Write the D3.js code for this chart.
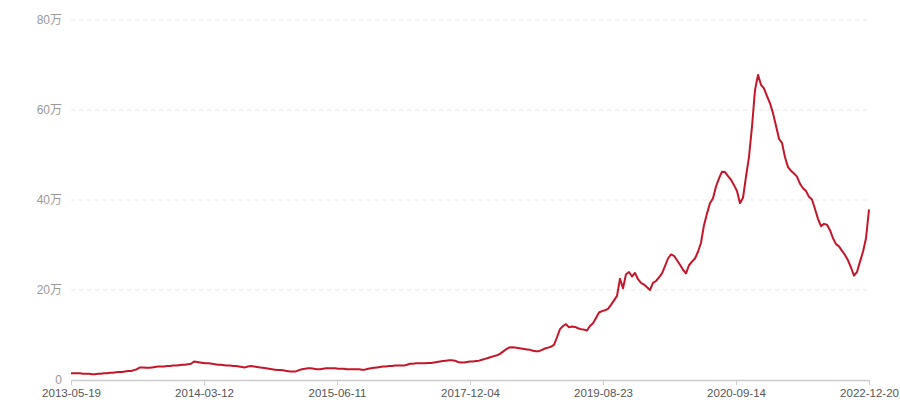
<!DOCTYPE html>
<html><head><meta charset="utf-8">
<script src="https://cdn.jsdelivr.net/npm/d3@7"></script>
<style>body{margin:0;background:#fff}svg{display:block}</style>
</head><body><div id="chart"></div>
<script>
const tickLabels = ["2013-05-19","2014-03-12","2015-06-11","2017-12-04","2019-08-23","2020-09-14","2022-12-20"];
const yTicks = [0,20,40,60,80];
const values = [
1.5,1.5,1.5,1.5,1.4,1.4,1.4,1.3,1.3,1.4,
1.4,1.5,1.5,1.6,1.6,1.7,1.8,1.8,1.9,2.0,
2.0,2.2,2.4,2.8,2.8,2.7,2.7,2.8,2.9,3.0,
3.0,3.0,3.1,3.1,3.2,3.2,3.3,3.4,3.4,3.5,
3.6,4.1,4.0,3.9,3.8,3.7,3.7,3.6,3.5,3.4,
3.4,3.3,3.2,3.2,3.1,3.1,3.0,2.9,2.8,3.0,
3.1,3.0,2.9,2.8,2.7,2.6,2.5,2.4,2.3,2.2,
2.2,2.1,2.0,1.9,1.9,1.9,2.2,2.4,2.5,2.6,
2.6,2.5,2.4,2.4,2.5,2.6,2.6,2.6,2.6,2.5,
2.5,2.5,2.4,2.4,2.4,2.4,2.4,2.3,2.3,2.5,
2.6,2.7,2.8,2.9,3.0,3.0,3.1,3.1,3.2,3.2,
3.2,3.2,3.4,3.6,3.6,3.7,3.7,3.7,3.7,3.8,
3.8,3.9,4.0,4.1,4.2,4.3,4.4,4.4,4.3,4.0,
3.9,3.9,4.0,4.1,4.1,4.2,4.3,4.5,4.7,4.9,
5.1,5.3,5.5,5.8,6.3,6.8,7.2,7.3,7.2,7.1,
7.0,6.9,6.8,6.7,6.5,6.4,6.4,6.7,7.0,7.2,
7.4,7.8,9.5,11.3,12.0,12.4,11.7,11.9,11.8,11.5,
11.3,11.2,11.0,12.0,12.6,13.8,15.0,15.3,15.5,15.8,
16.7,17.7,18.7,22.5,20.4,23.5,24.0,23.0,23.8,22.4,
21.6,21.2,20.6,20.0,21.6,22.0,22.8,23.7,25.3,27.0,
27.9,27.6,26.6,25.6,24.5,23.7,25.5,26.3,27.0,28.5,
30.5,34.4,37.0,39.3,40.4,43.0,44.8,46.3,46.2,45.3,
44.5,43.3,42.0,39.3,40.5,45.2,49.6,56.3,64.4,67.8,
65.6,64.8,63.1,61.5,59.3,56.5,53.6,52.7,49.5,47.3,
46.5,45.9,45.2,43.6,42.6,42.0,40.7,40.1,38.0,35.8,
34.2,34.7,34.5,33.3,31.5,30.2,29.7,28.7,27.8,26.6,
25.0,23.2,24.0,26.3,28.5,31.5,37.9
];

const W = 900, H = 400;
const m = {left: 71, right: 31, top: 20, bottom: 20};
const svg = d3.select("#chart").append("svg").attr("width", W).attr("height", H);
const font = "'Liberation Sans','Noto Sans CJK SC',sans-serif";

const x = d3.scaleLinear().domain([0, values.length - 1]).range([m.left, W - m.right]);
const y = d3.scaleLinear().domain([0, 80]).range([H - m.bottom, m.top]);

// grid
svg.append("g").selectAll("line").data(yTicks.filter(d => d > 0)).join("line")
  .attr("x1", m.left).attr("x2", W - m.right)
  .attr("y1", d => y(d)).attr("y2", d => y(d))
  .attr("stroke", "#e8e8e8").attr("stroke-width", 1).attr("stroke-dasharray", "4,4");

// y labels
svg.append("g").selectAll("text").data(yTicks).join("text")
  .attr("x", m.left - 9).attr("y", d => y(d)).attr("dy", "0.3em")
  .attr("text-anchor", "end").attr("fill", "#999").attr("font-size", 12)
  .attr("font-family", font)
  .text(d => d === 0 ? "0" : d + "万");

// x axis
const n = values.length - 1;
const tickPos = tickLabels.map((t, k) => k * n / (tickLabels.length - 1));
const xAxis = d3.axisBottom(x).tickValues(tickPos)
  .tickFormat((d, k) => tickLabels[k]).tickSize(5).tickSizeOuter(0);
const gx = svg.append("g").attr("transform", `translate(0,${H - m.bottom})`).call(xAxis);
gx.select(".domain").attr("stroke", "#ccc").attr("stroke-width", 1.5);
gx.selectAll(".tick line").attr("stroke", "#ccc");
gx.selectAll(".tick text").attr("fill", "#555").attr("font-size", 11.5)
  .attr("font-family", font).attr("y", 16.5).attr("dy", null);

// line
svg.append("path").datum(values)
  .attr("fill", "none").attr("stroke", "#c4162a").attr("stroke-width", 2)
  .attr("stroke-linejoin", "round")
  .attr("d", d3.line().x((d, i) => x(i)).y(d => y(d)));
</script></body></html>
